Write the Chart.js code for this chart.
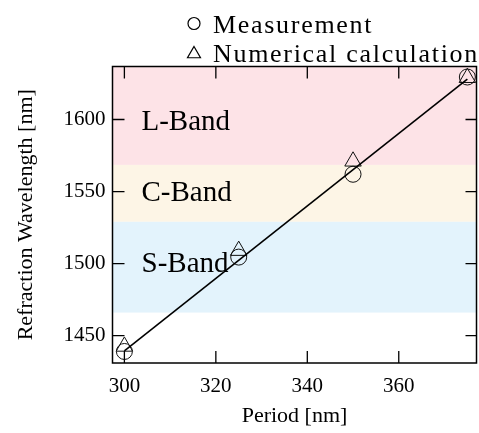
<!DOCTYPE html>
<html><head><meta charset="utf-8">
<script src="https://cdn.jsdelivr.net/npm/chart.js@4"></script>
<style>html,body{margin:0;padding:0;background:#fff}</style>
</head><body>
<canvas id="c" width="479" height="433"></canvas>
<script>
// ---- data ----
const periods = [300, 325, 350, 375];
const measured = [1439, 1504.5, 1562, 1629.5];
const calculated = [1442.5, 1509, 1571, 1629];
const fitPeriods = [300, 375];
const fitValues = [1439.5, 1628];
const xTicks = [300, 320, 340, 360];
const yTicks = [1450, 1500, 1550, 1600];
const bandNames = ['L-Band', 'C-Band', 'S-Band'];
const bandFrom = [1568.5, 1529, 1466];
const bandTo = [1640, 1568.5, 1529];
const seriesNames = ['Measurement', 'Numerical calculation'];

// ---- styles ----
const bandColors = ['#fde3e7', '#fdf5e6', '#e3f3fc'];
const bandLabelShift = [7, 0, -3];
const SERIF = '"Liberation Serif", "DejaVu Serif", serif';

const bandsPlugin = {
  id: 'bands',
  beforeDatasetsDraw(chart) {
    const {ctx, chartArea: a, scales: {x, y}} = chart;
    ctx.save();
    ctx.beginPath(); ctx.rect(a.left, a.top, a.right - a.left, a.bottom - a.top); ctx.clip();
    bandNames.forEach((n, i) => {
      const y1 = y.getPixelForValue(bandTo[i]);
      const y2 = y.getPixelForValue(bandFrom[i]);
      ctx.fillStyle = bandColors[i];
      ctx.fillRect(a.left, y1, a.right - a.left, y2 - y1);
    });
    ctx.fillStyle = '#000';
    ctx.font = '29px ' + SERIF;
    ctx.textBaseline = 'middle';
    ctx.textAlign = 'left';
    bandNames.forEach((n, i) => {
      const top = Math.min(bandTo[i], y.max);
      const yc = y.getPixelForValue((top + bandFrom[i]) / 2);
      ctx.fillText(n, a.left + 29, yc + bandLabelShift[i]);
    });
    ctx.restore();
  }
};

const framePlugin = {
  id: 'frame',
  afterDatasetsDraw(chart) {
    const {ctx, chartArea: a, scales: {x, y}} = chart;
    ctx.save();
    ctx.strokeStyle = '#000';
    ctx.lineWidth = 1.5;
    ctx.strokeRect(a.left, a.top, a.right - a.left, a.bottom - a.top);
    ctx.lineWidth = 1.3;
    ctx.beginPath();
    xTicks.forEach(v => {
      const px = x.getPixelForValue(v);
      ctx.moveTo(px, a.bottom); ctx.lineTo(px, a.bottom - 12);
      ctx.moveTo(px, a.top); ctx.lineTo(px, a.top + 12);
    });
    yTicks.forEach(v => {
      const py = y.getPixelForValue(v);
      ctx.moveTo(a.left, py); ctx.lineTo(a.left + 12, py);
      ctx.moveTo(a.right, py); ctx.lineTo(a.right - 11, py);
    });
    ctx.stroke();
    ctx.restore();
  }
};

const legendPlugin = {
  id: 'customLegend',
  afterDraw(chart) {
    const {ctx} = chart;
    ctx.save();
    ctx.fillStyle = '#000';
    ctx.strokeStyle = '#000';
    ctx.lineWidth = 1.2;
    ctx.font = '26px ' + SERIF;
    try { ctx.letterSpacing = '1.7px'; } catch (e) {}
    ctx.textBaseline = 'alphabetic';
    ctx.textAlign = 'left';
    const mx = 194, tx = 213;
    const rows = [23.5, 53];
    ctx.beginPath(); ctx.arc(mx, rows[0], 6, 0, Math.PI * 2); ctx.stroke();
    const r = 7.5, cy = rows[1] + 1;
    ctx.beginPath();
    ctx.moveTo(mx, cy - r);
    ctx.lineTo(mx + r * Math.sin(Math.PI / 3), cy + r / 2);
    ctx.lineTo(mx - r * Math.sin(Math.PI / 3), cy + r / 2);
    ctx.closePath(); ctx.stroke();
    ctx.fillText(seriesNames[0], tx, 33);
    ctx.fillText(seriesNames[1], tx, 62);
    ctx.restore();
  }
};

const toPts = (xs, ys) => xs.map((v, i) => ({x: v, y: ys[i]}));

new Chart(document.getElementById('c'), {
  type: 'scatter',
  data: {
    datasets: [
      {label: 'fit', data: toPts(fitPeriods, fitValues), showLine: true, pointRadius: 0,
       borderColor: '#000', borderWidth: 1.6, backgroundColor: 'transparent'},
      {label: seriesNames[0], data: toPts(periods, measured), pointStyle: 'circle', pointRadius: 8,
       borderColor: '#111', borderWidth: 1, backgroundColor: 'rgba(0,0,0,0)'},
      {label: seriesNames[1], data: toPts(periods, calculated), pointStyle: 'triangle', pointRadius: 9.5,
       borderColor: '#111', borderWidth: 1, backgroundColor: 'rgba(0,0,0,0)'}
    ]
  },
  options: {
    responsive: false,
    animation: false,
    devicePixelRatio: 1,
    layout: {autoPadding: false, padding: {top: 66.5, right: 2.5, left: 0, bottom: 0}},
    plugins: {legend: {display: false}, tooltip: {enabled: false}},
    scales: {
      x: {
        type: 'linear', min: 297.4, max: 377,
        afterBuildTicks: s => { s.ticks = xTicks.map(v => ({value: v})); },
        afterFit: s => { s.height = 70; s.paddingLeft = 0; s.paddingRight = 0; },
        grid: {display: false, drawTicks: false},
        border: {display: false},
        ticks: {color: '#000', font: {family: SERIF, size: 21}, padding: 11, callback: v => String(v)},
        title: {display: true, text: 'Period [nm]', color: '#000', font: {family: SERIF, size: 22}, padding: {top: 2}}
      },
      y: {
        type: 'linear', min: 1431, max: 1636.8,
        afterBuildTicks: s => { s.ticks = yTicks.map(v => ({value: v})); },
        afterFit: s => { s.width = 112.5; s.paddingTop = 0; s.paddingBottom = 0; },
        grid: {display: false, drawTicks: false},
        border: {display: false},
        ticks: {color: '#000', font: {family: SERIF, size: 21}, padding: 7, callback: v => String(v)},
        title: {display: true, text: 'Refraction Wavelength [nm]', color: '#000', font: {family: SERIF, size: 22}, padding: {top: 13, bottom: 0}}
      }
    }
  },
  plugins: [bandsPlugin, framePlugin, legendPlugin]
});
</script>
</body></html>
